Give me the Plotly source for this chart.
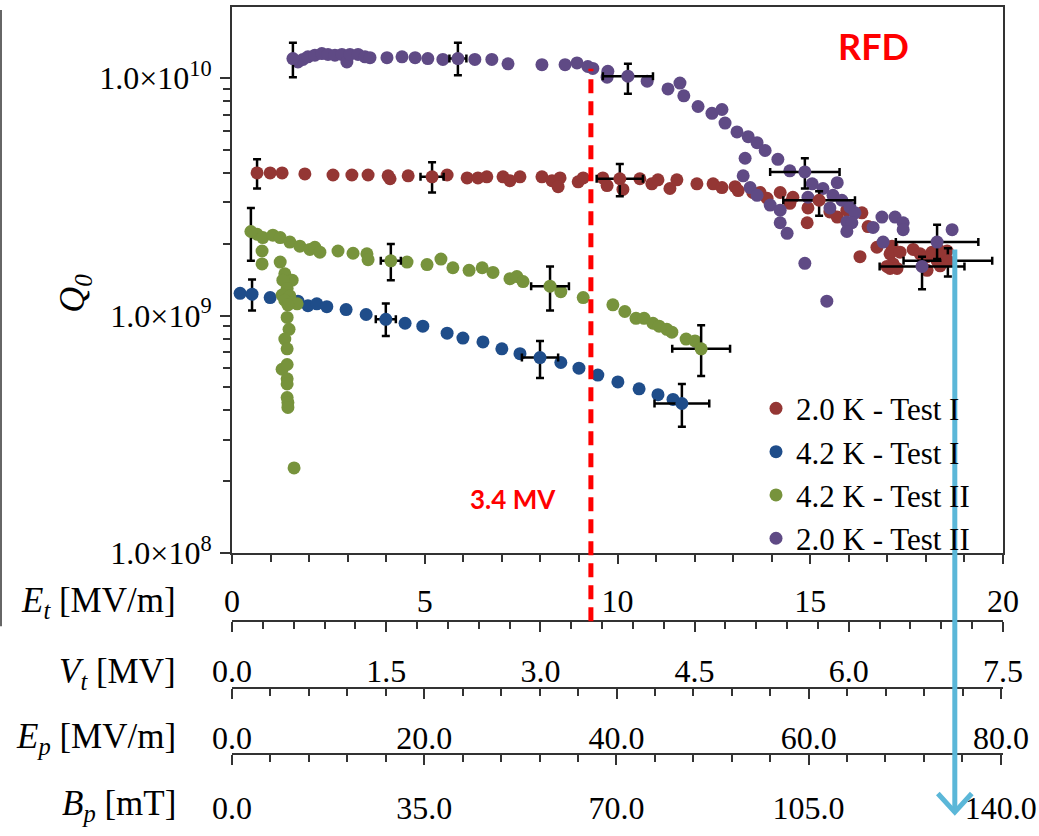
import plotly.graph_objects as go

# ---------------- data (E_t in MV/m, Q0 in units of 1e9) ----------------
et_2K_I = [0.99, 1.30, 1.89, 2.62, 3.11, 3.53, 4.05, 4.10, 4.57, 5.58, 6.10, 6.38, 6.61, 7.03, 7.21, 7.47,
           8.04, 8.30, 8.51, 8.46, 8.98, 9.11, 9.62, 9.73, 10.14, 10.58, 10.89, 11.05, 11.36, 11.54, 12.06,
           12.48, 12.71, 13.05, 13.13, 13.51, 13.70, 13.88, 14.22, 14.47, 14.55, 14.94, 14.92, 15.51, 15.70,
           15.95, 16.34, 16.50, 16.73, 16.29, 17.12, 17.07, 17.33, 17.15, 17.07, 17.67, 17.85, 18.03, 18.16,
           18.29, 18.37, 18.44, 18.55, 18.03, 18.37, 17.25, 16.99]
q_2K_I = [3.99, 3.99, 3.95, 3.91, 3.91, 3.91, 3.88, 3.77, 3.88, 3.91, 3.80, 3.80, 3.84, 3.84, 3.70, 3.84,
          3.84, 3.70, 3.80, 3.49, 3.66, 3.80, 3.80, 3.53, 3.40, 3.77, 3.59, 3.73, 3.43, 3.73, 3.59,
          3.59, 3.46, 3.49, 3.36, 3.30, 3.30, 3.12, 3.30, 2.97, 3.15, 2.84, 2.46, 2.73, 2.60,
          2.78, 2.71, 2.37, 1.94, 1.77, 1.96, 1.82, 1.85, 1.65, 1.58, 1.90, 1.82, 1.77, 1.85,
          1.70, 1.62, 1.77, 1.87, 1.55, 1.87, 1.58, 1.61]

et_4K_I = [0.21, 0.99, 1.50, 1.71, 1.97, 2.20, 2.46, 2.96, 3.48, 4.49, 4.95, 5.58, 5.99, 6.51, 7.00, 7.47,
           8.53, 9.00, 9.49, 10.01, 10.56, 11.05, 11.44]
q_4K_I = [1.24, 1.19, 1.14, 1.15, 1.10, 1.12, 1.09, 1.06, 1.01, 0.928, 0.902, 0.843, 0.804, 0.774, 0.724, 0.691,
          0.634, 0.600, 0.561, 0.525, 0.491, 0.464, 0.443]

et_4K_II = [0.65, 0.80, 1.06, 1.25, 1.50, 1.76, 2.02, 2.15, 2.28, 2.75, 3.14, 3.50, 3.53, 4.54, 5.06, 5.42,
            5.73, 6.15, 6.49, 6.77, 7.21, 7.39, 7.55, 8.53, 9.11, 9.88, 10.19, 10.48, 10.69, 10.92, 11.08,
            11.28, 11.41, 11.78, 12.01,
            0.78, 0.78, 1.25,
            1.37, 1.56, 1.32, 1.43, 1.30, 1.50, 1.37, 1.69, 1.45, 1.43, 1.48, 1.37, 1.43, 1.30, 1.43, 1.43,
            1.43, 1.43, 1.45, 1.45, 1.61]
q_4K_II = [2.20, 2.13, 2.18, 2.13, 2.04, 1.96, 1.90, 1.94, 1.85, 1.87, 1.83, 1.82, 1.72, 1.68, 1.64, 1.73,
           1.59, 1.55, 1.59, 1.52, 1.43, 1.46, 1.39, 1.26, 1.19, 1.11, 1.04, 0.973, 0.973, 0.928, 0.902,
           0.875, 0.851, 0.796, 0.782,
           1.87, 1.65, 1.68,
           1.50, 1.41, 1.41, 1.30, 1.22, 1.21, 1.16, 1.12, 1.11, 0.982, 0.875, 0.796, 0.724, 0.594, 0.622, 0.541,
           0.515, 0.451, 0.430, 0.410, 0.228]

et_2K_II = [1.71, 1.84, 1.97, 2.15, 2.33, 2.49, 2.67, 2.85, 2.98, 3.06, 3.27, 3.45, 3.58, 4.02, 4.41, 4.75,
            5.08, 5.47, 6.30, 6.74, 7.16, 8.04, 8.64, 8.95, 9.23, 9.36, 9.75, 9.73, 10.77, 11.31, 11.62,
            11.72, 12.09, 12.45, 12.71, 12.79, 13.10, 13.39, 13.62, 13.83, 14.16, 13.31, 13.26, 14.47, 13.44,
            13.62, 13.96, 14.22, 14.22, 14.40, 15.05, 15.33, 15.70, 15.59, 14.94, 15.82, 15.51, 16.03, 16.16,
            15.95, 16.08, 15.95, 14.86, 15.43, 16.63, 16.86, 17.20, 17.41, 17.41, 16.89, 18.68]
q_2K_II = [11.7, 12.0, 12.3, 12.5, 12.7, 12.6, 12.5, 12.6, 11.7, 12.6, 12.6, 12.3, 12.2, 12.2, 12.3, 12.2,
           12.1, 12.0, 12.0, 12.0, 11.5, 11.4, 11.4, 11.6, 11.2, 11.0, 10.7, 10.1, 9.72, 9.01, 9.54,
           8.43, 7.60, 7.11, 7.38, 6.47, 5.94, 5.67, 5.35, 4.96, 4.55, 4.60, 3.88, 4.07, 3.46,
           3.21, 2.92, 2.78, 2.46, 2.22, 3.59, 3.43, 3.63, 3.21, 3.15, 3.06, 2.84, 2.86, 2.71,
           2.48, 2.46, 2.26, 1.66, 1.15, 2.35, 2.60, 2.60, 2.46, 2.30, 2.04, 2.30]

# points with error bars (E_t, Q0, x-error, +Q err, -Q err)
eb_et_2K_I = [0.65, 5.19, 10.06, 15.23, 18.57]
eb_q_2K_I = [3.99, 3.84, 3.77, 3.06, 1.70]
eb_dx_2K_I = [0, 0.30, 0.60, 0.93, 1.15]
eb_up_2K_I = [0.56, 0.59, 0.58, 0.28, 0.22]
eb_dn_2K_I = [0.56, 0.54, 0.59, 0.43, 0.24]

eb_et_4K_I = [0.52, 3.99, 7.99, 11.67]
eb_q_4K_I = [1.23, 0.964, 0.665, 0.426]
eb_dx_4K_I = [0, 0.26, 0.47, 0.71]
eb_up_4K_I = [0.19, 0.16, 0.117, 0.089]
eb_dn_4K_I = [0.18, 0.144, 0.12, 0.086]

eb_et_4K_II = [0.49, 4.12, 8.25, 12.17]
eb_q_4K_II = [2.26, 1.70, 1.33, 0.724]
eb_dx_4K_II = [0, 0.26, 0.49, 0.75]
eb_up_4K_II = [0.58, 0.30, 0.28, 0.186]
eb_dn_4K_II = [0.56, 0.29, 0.28, 0.168]

eb_et_2K_II = [1.58, 5.86, 10.27, 14.86, 18.29, 17.90]
eb_q_2K_II = [12.1, 12.1, 10.2, 4.03, 2.04, 1.61]
eb_dx_2K_II = [0, 0.22, 0.65, 0.90, 1.07, 1.10]
eb_up_2K_II = [2.0, 2.0, 1.3, 0.57, 0.37, 0.16]
eb_dn_2K_II = [2.0, 1.8, 1.6, 0.60, 0.31, 0.32]

series_names = ["2.0 K - Test I", "4.2 K - Test I", "4.2 K - Test II", "2.0 K - Test II"]
series_colors = ["#943634", "#1F4D8A", "#77933C", "#5F4A85"]

# secondary scales
vt_ticks = [0.0, 1.5, 3.0, 4.5, 6.0, 7.5]
ep_ticks = [0.0, 20.0, 40.0, 60.0, 80.0]
bp_ticks = [0.0, 35.0, 70.0, 105.0, 140.0]
et_ticks = [0, 5, 10, 15, 20]
q_ticks = [1e8, 1e9, 1e10]
q_ticktext = ["1.0×10<sup>8</sup>", "1.0×10<sup>9</sup>", "1.0×10<sup>10</sup>"]

v_mark = 9.31      # E_t of the 3.4 MV line
arrow_et = 18.75   # E_t of blue arrow

# ---------------- figure ----------------
W, H = 1039, 836
MT, MB = 7, 0
SERIF = "Liberation Serif"


def pyf(p):
    return (H - MB - p) / (H - MT - MB)


def pxf(p):
    return (p - 232) / (1003 - 232)


fig = go.Figure()
main = [(et_2K_I, q_2K_I), (et_4K_I, q_4K_I), (et_4K_II, q_4K_II), (et_2K_II, q_2K_II)]
for (xs, qs), nm, col in zip(main, series_names, series_colors):
    fig.add_trace(go.Scatter(x=xs, y=[q * 1e9 for q in qs], mode="markers", name=nm,
                             marker=dict(color=col, size=13, line=dict(width=0))))

ebs = [(eb_et_2K_I, eb_q_2K_I, eb_dx_2K_I, eb_up_2K_I, eb_dn_2K_I),
       (eb_et_4K_I, eb_q_4K_I, eb_dx_4K_I, eb_up_4K_I, eb_dn_4K_I),
       (eb_et_4K_II, eb_q_4K_II, eb_dx_4K_II, eb_up_4K_II, eb_dn_4K_II),
       (eb_et_2K_II, eb_q_2K_II, eb_dx_2K_II, eb_up_2K_II, eb_dn_2K_II)]
for (xs, qs, dx, up, dn), col in zip(ebs, series_colors):
    fig.add_trace(go.Scatter(
        x=xs, y=[q * 1e9 for q in qs], mode="markers", showlegend=False,
        marker=dict(color=col, size=13, line=dict(width=0)),
        error_x=dict(type="data", array=dx, color="black", thickness=2.5, width=4),
        error_y=dict(type="data", symmetric=False, array=[u * 1e9 for u in up],
                     arrayminus=[d * 1e9 for d in dn], color="black", thickness=2.5, width=4)))

for ax in ["x2", "x3", "x4"]:
    fig.add_trace(go.Scatter(x=[None], y=[None], xaxis=ax, yaxis="y", showlegend=False, hoverinfo="skip"))

axline = dict(showline=True, linecolor="#333333", linewidth=2, ticks="outside", tickcolor="#333333",
              tickwidth=1.8, showgrid=False, zeroline=False,
              tickfont=dict(family=SERIF, size=32, color="black"))


def minor(vals):
    return dict(tickvals=vals, ticks="outside", ticklen=7, tickcolor="#333333", tickwidth=1.8)


fig.update_layout(
    width=W, height=H, margin=dict(l=232, r=36, t=MT, b=MB),
    paper_bgcolor="white", plot_bgcolor="white",
    xaxis=dict(domain=[0, 1], range=[0, 20], anchor="y", mirror=True, tickvals=et_ticks,
               ticklen=9, ticklabelstandoff=10, minor=minor(list(range(0, 21))), **axline),
    xaxis2=dict(overlaying="x", anchor="free", position=pyf(635), side="bottom", range=[0, 7.5],
                tickvals=vt_ticks, ticktext=[f"{v:.1f}" for v in vt_ticks], ticklen=10, ticklabelstandoff=11,
                minor=minor([i * 0.3 for i in range(26)]), **axline),
    xaxis3=dict(overlaying="x", anchor="free", position=pyf(703), side="bottom", range=[0, 80.2],
                tickvals=ep_ticks, ticktext=[f"{v:.1f}" for v in ep_ticks], ticklen=10, ticklabelstandoff=12,
                minor=minor([i * 4 for i in range(21)]), **axline),
    xaxis4=dict(overlaying="x", anchor="free", position=pyf(771), side="bottom", range=[0, 140.4],
                tickvals=bp_ticks, ticktext=[f"{v:.1f}" for v in bp_ticks], ticklen=10, ticklabelstandoff=15,
                minor=minor([i * 7 for i in range(21)]), **axline),
    yaxis=dict(type="log", domain=[pyf(565), 1], range=[8, 10.30], anchor="x", mirror=True,
               tickvals=q_ticks, ticktext=q_ticktext, ticklen=10, ticklabelstandoff=2,
               minor=minor([k * 10 ** n for n in (8, 9) for k in range(2, 10)] + [2e10]), **axline),
    legend=dict(x=pxf(756), y=pyf(390), xanchor="left", yanchor="top", bgcolor="rgba(0,0,0,0)",
                font=dict(family=SERIF, size=31, color="black"), itemwidth=30, tracegroupgap=0),
    showlegend=True,
)

ann_font = dict(family=SERIF, size=35, color="black")
titles = [("<i>E<sub>t</sub></i> [MV/m]", 616), ("<i>V<sub>t</sub></i> [MV]", 688),
          ("<i>E<sub>p</sub></i> [MV/m]", 755), ("<i>B<sub>p</sub></i> [mT]", 823)]
for txt, yy in titles:
    fig.add_annotation(text=txt, xref="paper", yref="paper", x=pxf(178), y=pyf(yy), xanchor="right",
                       yanchor="middle", showarrow=False, font=ann_font)

fig.add_annotation(text="<i>Q</i><sub><i>0</i></sub>", xref="paper", yref="paper", x=pxf(75), y=pyf(300),
                   xanchor="center", yanchor="middle",
                   textangle=-90, showarrow=False, font=dict(family=SERIF, size=36, color="black"))
fig.add_annotation(text="<b>RFD</b>", xref="paper", yref="paper", x=pxf(873), y=pyf(47), showarrow=False,
                   xanchor="center", yanchor="middle",
                   font=dict(family="Lato", size=36, color="#FF0000"))
fig.add_annotation(text="<b>3.4 MV</b>", xref="paper", yref="paper", x=pxf(513), y=pyf(510), showarrow=False,
                   xanchor="center", yanchor="middle",
                   font=dict(family="Lato", size=26, color="#FF0000"))

# 3.4 MV dashed marker line
fig.add_shape(type="line", xref="x", yref="paper", x0=v_mark, x1=v_mark, y0=pyf(635), y1=pyf(70),
              line=dict(color="#FF0000", width=5, dash="14px,8px"), layer="above")
# blue arrow
fig.add_shape(type="line", xref="x", yref="paper", x0=arrow_et, x1=arrow_et, y0=pyf(255), y1=pyf(829),
              line=dict(color="#5BB7D8", width=5), layer="above")
fig.add_shape(type="path", xref="x", yref="paper",
              path=f"M {arrow_et - 0.44} {pyf(811)} L {arrow_et} {pyf(830)} L {arrow_et + 0.44} {pyf(811)}",
              line=dict(color="#5BB7D8", width=5), layer="above")
# cropped-image edge at far left
fig.add_shape(type="line", xref="paper", yref="paper", x0=pxf(1), x1=pxf(1), y0=pyf(640), y1=pyf(10),
              line=dict(color="#666666", width=2))

fig.write_html("out.html", config={"displayModeBar": False},
               post_script="document.body.style.margin='0px';document.body.style.overflow='hidden';")
